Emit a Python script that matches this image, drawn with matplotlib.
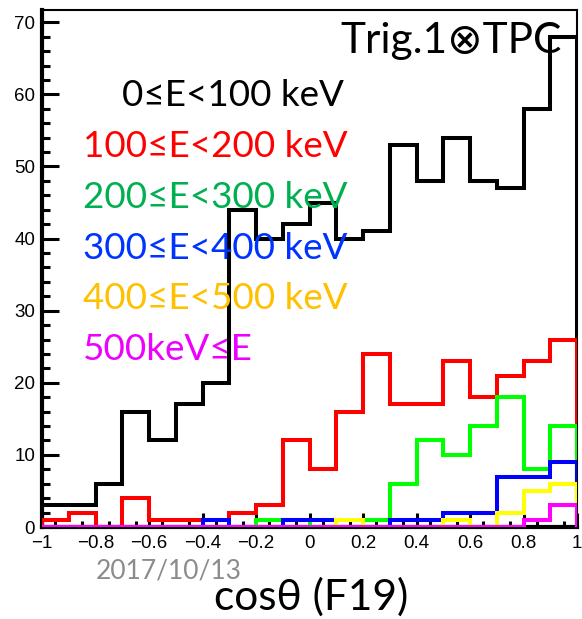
import numpy as np
import matplotlib
matplotlib.use("Agg")
import matplotlib.pyplot as plt

# cos(theta) histogram, 20 bins from -1 to 1
bin_edges = np.linspace(-1, 1, 21)

counts_0_100 = [3, 3, 6, 16, 12, 17, 20, 44, 40, 42, 45, 40, 41, 53, 48, 54, 48, 47, 58, 68]
counts_100_200 = [1, 2, 0, 4, 1, 1, 1, 2, 3, 12, 8, 16, 24, 17, 17, 23, 18, 21, 23, 26]
counts_200_300 = [0, 0, 0, 0, 0, 0, 0, 0, 1, 1, 0, 0, 1, 6, 12, 10, 14, 18, 8, 14]
counts_300_400 = [0, 0, 0, 0, 0, 0, 1, 0, 0, 1, 1, 0, 0, 1, 1, 2, 2, 7, 7, 9]
counts_400_500 = [0, 0, 0, 0, 0, 0, 0, 0, 0, 0, 0, 1, 0, 0, 0, 1, 0, 2, 5, 6]
counts_500_up = [0, 0, 0, 0, 0, 0, 0, 0, 0, 0, 0, 0, 0, 0, 0, 0, 0, 0, 1, 3]

labels = ["0≤E<100 keV", "100≤E<200 keV", "200≤E<300 keV",
          "300≤E<400 keV", "400≤E<500 keV", "500keV≤E"]
line_colors = ["black", "#ff0000", "#00ff00", "#0000ff", "#ffff00", "#ff00ff"]
text_colors = ["black", "#ff0000", "#00b050", "#0033ff", "#ffc000", "#ee00ff"]

xtick_vals = [-1, -0.8, -0.6, -0.4, -0.2, 0, 0.2, 0.4, 0.6, 0.8, 1]
xtick_labels = ["\u22121", "\u22120.8", "\u22120.6", "\u22120.4", "\u22120.2",
                "0", "0.2", "0.4", "0.6", "0.8", "1"]
ytick_vals = [0, 10, 20, 30, 40, 50, 60, 70]

W, H = 582, 619
fig = plt.figure(figsize=(W / 100, H / 100), dpi=100)
ax = fig.add_axes([42 / W, 1 - 527 / H, 535 / W, 517 / H])

all_counts = [counts_0_100, counts_100_200, counts_200_300,
              counts_300_400, counts_400_500, counts_500_up]
for cnt, col in zip(all_counts, line_colors):
    ax.stairs(cnt, bin_edges, color=col, lw=2.9, baseline=0, zorder=3)

ax.set_xlim(-1, 1)
ax.set_ylim(0, 71.7)

tick_font = {"family": ["Liberation Sans", "DejaVu Sans"], "size": 13.5}
ax.set_xticks(xtick_vals)
ax.set_xticklabels(xtick_labels, fontdict=tick_font)
ax.set_xticks(np.arange(-0.95, 1.0, 0.1), minor=True)
ax.set_yticks(ytick_vals)
ax.set_yticklabels([str(v) for v in ytick_vals], fontdict=tick_font)
ax.set_yticks(np.arange(0, 71, 2), minor=True)

ax.tick_params(axis="y", which="major", direction="in", length=12, width=2.2, pad=5)
ax.tick_params(axis="y", which="minor", direction="in", length=6, width=2.2)
ax.tick_params(axis="x", which="major", direction="in", length=10, width=2.2, pad=6)
ax.tick_params(axis="x", which="minor", direction="in", length=4.5, width=2.2)

ax.spines["left"].set_linewidth(3)
ax.spines["bottom"].set_linewidth(3)
ax.spines["top"].set_linewidth(1.5)
ax.spines["right"].set_linewidth(1.5)

txt_family = ["Lato", "DejaVu Sans"]
ypos = [106, 157, 208, 259, 309, 360]
xpos = [122, 83, 83, 83, 83, 83]
for lab, col, xp, yp in zip(labels, text_colors, xpos, ypos):
    fig.text(xp / W, 1 - yp / H, lab, color=col, fontsize=26.5,
             family=txt_family, va="baseline", ha="left")

fig.text(340 / W, 1 - 53 / H, "Trig.1\u2297TPC", color="black", fontsize=30.5,
         family=txt_family, va="baseline", ha="left")
fig.text(96 / W, 1 - 579 / H, "2017/10/13", color="#8c8c8c", fontsize=19,
         family=txt_family, va="baseline", ha="left")
fig.text(311 / W, 1 - 610 / H, "cos\u03b8 (F19)", color="black", fontsize=30.5,
         family=txt_family, va="baseline", ha="center")

fig.savefig("out.png", dpi=100)
